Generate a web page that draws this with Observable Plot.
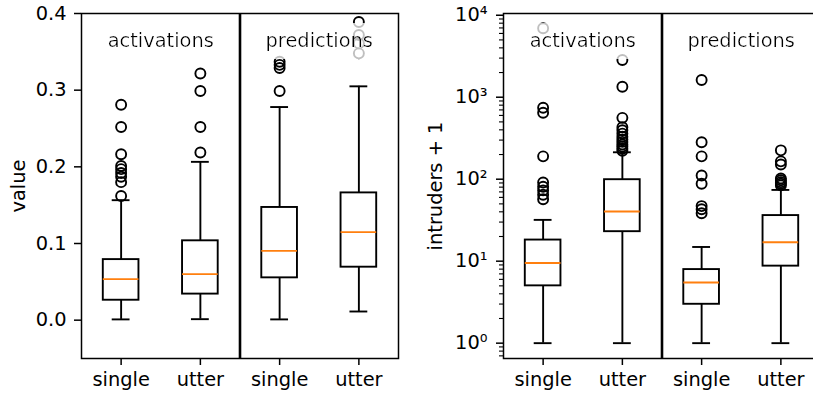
<!DOCTYPE html>
<html><head><meta charset="utf-8">
<script src="https://cdn.jsdelivr.net/npm/d3@7"></script>
<script src="https://cdn.jsdelivr.net/npm/@observablehq/plot@0.6"></script>
<style>
html,body{margin:0;padding:0;background:#fff;overflow:hidden;}
#wrap{display:flex;width:830px;}
#wrap svg{flex:none;}
</style></head><body>
<svg width="0" height="0" style="position:absolute"><defs>
<filter id="bg" x="-0.06" y="-0.27" width="1.12" height="1.54">
<feFlood flood-color="white" flood-opacity="0.75"/>
<feComposite in="SourceGraphic" operator="over"/>
</filter></defs></svg>
<div id="wrap"></div>
<script>
// categories
const groups = ["activations", "predictions"];
const methods = ["single", "utter"];
// box order: activations-single, activations-utter, predictions-single, predictions-utter

// left panel: value
const valLow    = [0.001, 0.0013, 0.001, 0.0113];
const valQ1     = [0.026, 0.034, 0.0552, 0.0691];
const valMedian = [0.0535, 0.060, 0.0904, 0.1148];
const valQ3     = [0.079, 0.1035, 0.147, 0.166];
const valHigh   = [0.1565, 0.2065, 0.278, 0.305];
const valOutliers = [
  [0.162, 0.180, 0.187, 0.192, 0.197, 0.201, 0.2165, 0.252, 0.281],
  [0.2187, 0.252, 0.299, 0.3217],
  [0.299, 0.329, 0.333, 0.337],
  [0.348, 0.361, 0.372, 0.389]
];

// right panel: intruders + 1
const intLow    = [1, 1, 1, 1];
const intQ1     = [5.0, 22.9, 2.98, 8.7];
const intMedian = [9.5, 40.3, 5.5, 17];
const intQ3     = [18.1, 98.6, 7.9, 36];
const intHigh   = [31.9, 213, 14.9, 74];
const intOutliers = [
  [57, 64.6, 73, 81, 91, 190, 646, 745, 6930],
  [222, 235, 250, 265, 285, 305, 330, 360, 395, 430, 560, 1340, 2850],
  [38.5, 43, 47, 88, 111, 190, 282, 1620],
  [84, 88, 92, 97, 102, 151, 165, 225]
];

const valTicks = [0, 0.1, 0.2, 0.3, 0.4];
const intTicks = [1, 10, 100, 1000, 10000];
const intTickLabels = ["10⁰", "10¹", "10²", "10³", "10⁴"];

const FONT = {fontFamily: "DejaVu Sans", fontSize: "19.4px", background: "white", overflow: "visible"};
const HALF = 0.225, CAP = 0.1125, LW = 1.9;

function buildBoxes(low, q1, med, q3, high) {
  return low.map((_, i) => ({pos: i + 1, low: low[i], q1: q1[i], median: med[i], q3: q3[i], high: high[i]}));
}
function buildOutliers(arr) {
  return arr.flatMap((vals, i) => vals.map(v => ({pos: i + 1, value: v})));
}
const groupLabels = groups.map((g, i) => ({text: g, pos: i * methods.length + (methods.length + 1) / 2}));
const dividers = groups.slice(1).map((_, i) => (i + 1) * methods.length + 0.5);

function boxMarks(boxes, outs) {
  return [
    Plot.ruleX(boxes, {x: "pos", y1: "low", y2: "q1", stroke: "black", strokeWidth: LW}),
    Plot.ruleX(boxes, {x: "pos", y1: "q3", y2: "high", stroke: "black", strokeWidth: LW}),
    Plot.ruleY(boxes, {y: "low", x1: d => d.pos - CAP, x2: d => d.pos + CAP, stroke: "black", strokeWidth: LW}),
    Plot.ruleY(boxes, {y: "high", x1: d => d.pos - CAP, x2: d => d.pos + CAP, stroke: "black", strokeWidth: LW}),
    Plot.rect(boxes, {x1: d => d.pos - HALF, x2: d => d.pos + HALF, y1: "q1", y2: "q3", fill: "none", stroke: "black", strokeWidth: LW}),
    Plot.ruleY(boxes, {y: "median", x1: d => d.pos - HALF, x2: d => d.pos + HALF, stroke: "#ff7f0e", strokeWidth: LW}),
    Plot.dot(outs, {x: "pos", y: "value", r: 5, fill: "none", stroke: "black", strokeWidth: LW}),
    Plot.ruleX(dividers, {stroke: "black", strokeWidth: 2.6}),
    Plot.frame({stroke: "black", strokeWidth: 1.5}),
    Plot.text(groupLabels, {x: "pos", text: "text", frameAnchor: "top", dy: 20, fill: "black", fontSize: 19.4}),
    Plot.axisX({ticks: [1, 2, 3, 4], tickFormat: i => methods[(i - 1) % methods.length], tickSize: 7, tickPadding: 7, strokeWidth: 1.5, label: null, fill: "black"})
  ];
}

const xScale = {domain: [0.5, 4.5]};

const left = Plot.plot({
  width: 410, height: 393,
  marginLeft: 81, marginRight: 12, marginTop: 13, marginBottom: 35,
  style: FONT,
  x: xScale,
  y: {domain: [-0.05, 0.4]},
  marks: [
    ...boxMarks(buildBoxes(valLow, valQ1, valMedian, valQ3, valHigh), buildOutliers(valOutliers)),
    Plot.axisY({ticks: valTicks, tickFormat: d3.format(".1f"), tickSize: 7, tickPadding: 8, strokeWidth: 1.5,
      label: "value", labelArrow: "none", labelAnchor: "center", labelOffset: 70, fill: "black"})
  ]
});

const minorTicks = [];
for (let e = -1; e <= 3; e++) for (let k = 2; k <= 9; k++) {
  const v = k * Math.pow(10, e);
  if (v > 0.65 && v < 10500) minorTicks.push(v);
}

const right = Plot.plot({
  width: 411, height: 393,
  marginLeft: 93, marginRight: 1, marginTop: 13, marginBottom: 35,
  style: FONT,
  x: xScale,
  y: {type: "log", domain: [0.65, 10500]},
  marks: [
    ...boxMarks(buildBoxes(intLow, intQ1, intMedian, intQ3, intHigh), buildOutliers(intOutliers)),
    Plot.axisY({ticks: minorTicks, tickFormat: () => "", tickSize: 4, strokeWidth: 1.1, label: null}),
    Plot.axisY({ticks: intTicks, tickFormat: (d) => intTickLabels[intTicks.indexOf(d)], tickSize: 7, tickPadding: 9, strokeWidth: 1.5,
      label: "intruders + 1", labelArrow: "none", labelAnchor: "center", labelOffset: 75, fill: "black"})
  ]
});

const wrap = document.getElementById("wrap");
wrap.append(left, right);
for (const svg of [left, right]) {
  svg.querySelectorAll('g[aria-label="text"] text').forEach(t => t.setAttribute("filter", "url(#bg)"));
}
</script>
</body></html>
